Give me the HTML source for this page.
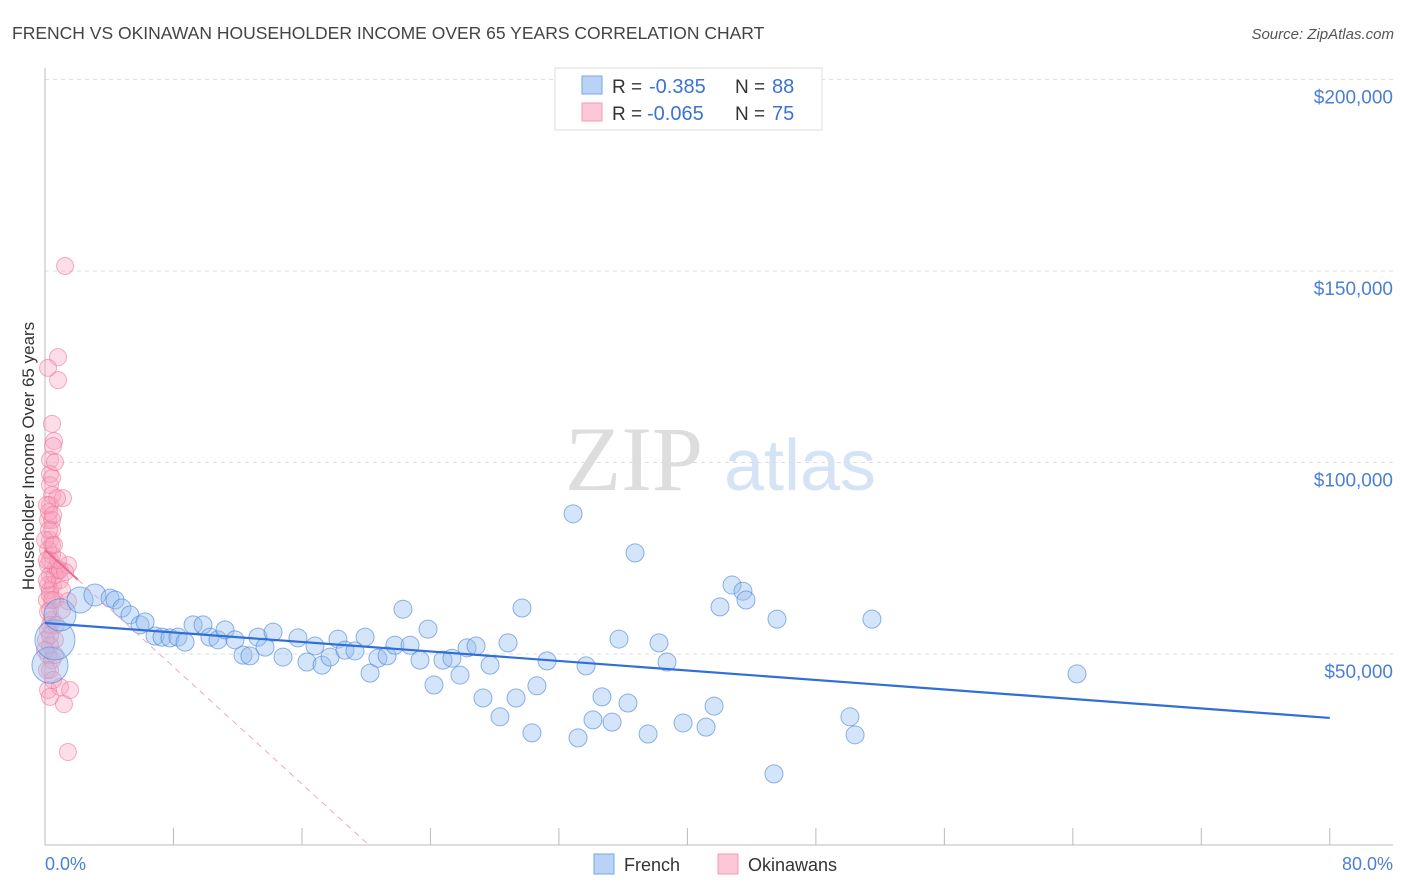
<!DOCTYPE html>
<html><head><meta charset="utf-8">
<style>
body{margin:0;background:#fff;font-family:"Liberation Sans",sans-serif;}
#wrap{position:relative;width:1406px;height:892px;overflow:hidden;}
</style></head>
<body>
<div id="wrap">
<svg id="svg" width="1406" height="892">
  <text x="12" y="39" font-size="17.5" fill="#444">FRENCH VS OKINAWAN HOUSEHOLDER INCOME OVER 65 YEARS CORRELATION CHART</text>
  <text x="1394" y="39" font-size="15" fill="#555" font-style="italic" text-anchor="end">Source: ZipAtlas.com</text>
  <g>
    <text x="634" y="490" font-size="92" fill="#ddd" font-family="Liberation Serif" text-anchor="middle">ZIP</text>
    <text x="800" y="490" font-size="72" fill="#d4e3f5" text-anchor="middle">atlas</text>
  </g>
  <g id="grid"></g>
  <g id="axes"></g>
  <g id="pts"></g>
  <g id="lines"></g>
  <text transform="translate(34,456) rotate(-90)" font-size="17" fill="#333" text-anchor="middle">Householder Income Over 65 years</text>
  <text x="45" y="870" font-size="18" fill="#4a7fd4">0.0%</text>
  <text x="1393" y="870" font-size="18" fill="#4a7fd4" text-anchor="end">80.0%</text>
  <g>
    <rect x="555" y="68" width="267" height="62" fill="#fff" stroke="#ddd"/>
    <rect x="582" y="76" width="20" height="18" fill="#b8d3f5" stroke="#7aa7e6"/>
    <rect x="582" y="103" width="20" height="18" fill="#fcc8d7" stroke="#f09ab3"/>
    <text x="612" y="93" font-size="19" fill="#333">R =</text>
    <text x="649" y="93" font-size="20" fill="#3a73d0">-0.385</text>
    <text x="735" y="93" font-size="19" fill="#333">N =</text>
    <text x="772" y="93" font-size="20" fill="#3a73d0">88</text>
    <text x="612" y="120" font-size="19" fill="#333">R =</text>
    <text x="647" y="120" font-size="20" fill="#3a73d0">-0.065</text>
    <text x="735" y="120" font-size="19" fill="#333">N =</text>
    <text x="772" y="120" font-size="20" fill="#3a73d0">75</text>
  </g>
  <g>
    <rect x="594" y="854" width="20" height="20" fill="#b8d3f5" stroke="#7aa7e6"/>
    <text x="624" y="871" font-size="18" fill="#333">French</text>
    <rect x="718" y="854" width="20" height="20" fill="#fcc8d7" stroke="#f09ab3"/>
    <text x="748" y="871" font-size="18" fill="#333">Okinawans</text>
  </g>
</svg>
</div>
<script>
const yTicks=[50,100,150,200];
const yTickLabels=["$50,000","$100,000","$150,000","$200,000"];
const xTicks=[0,8,16,24,32,40,48,56,64,72,80];
const frenchX=[0.31,0.62,0.93,2.18,3.11,4.05,4.36,4.79,5.29,5.92,6.23,6.85,7.29,7.78,8.28,8.72,9.22,9.84,10.27,10.77,11.21,11.83,12.33,12.76,13.26,13.70,14.20,14.82,15.75,16.31,16.81,17.25,17.75,18.24,18.68,19.30,19.93,20.24,20.73,21.30,21.79,22.29,22.73,23.35,23.85,24.22,24.78,25.34,25.84,26.28,26.84,27.27,27.71,28.33,28.83,29.33,29.70,30.32,30.63,31.26,32.88,33.19,33.69,34.12,34.68,35.31,35.74,36.30,36.74,37.55,38.23,38.73,39.73,41.16,41.66,42.03,42.78,43.46,43.65,45.39,45.58,50.12,50.44,51.49,64.26];
const frenchY=[47.1,53.7,60.2,64.1,65.4,64.6,64.1,62.0,60.2,57.6,58.4,54.7,54.4,54.2,54.4,53.1,57.6,57.6,54.4,53.7,56.3,53.7,49.7,49.5,54.4,51.8,55.7,49.2,54.2,47.9,52.1,47.1,49.2,53.9,51.0,50.8,54.4,45.0,48.9,49.5,52.3,61.7,52.3,48.4,56.5,41.9,48.4,48.9,44.5,51.6,52.1,38.5,47.1,33.6,52.9,38.5,62.0,29.4,41.7,48.2,86.6,28.1,46.9,32.8,38.8,32.2,53.9,37.2,76.4,29.1,52.9,47.9,32.0,30.9,36.4,62.3,68.0,66.4,64.1,18.7,59.1,33.6,28.9,59.1,44.8];
const okX=[1.25,0.81,0.81,0.19,0.44,0.56,0.50,0.31,0.31,0.31,0.44,1.12,0.31,0.19,0.44,0.31,0.44,0.44,0.19,1.43,0.68,0.31,0.19,0.62,1.43,0.31,0.44,0.19,0.62,0.31,0.19,0.44,0.31,0.19,0.93,1.56,0.31,1.18,1.43,0.12,0.50,0.62,0.81,0.31,0.31,0.19,0.44,0.25,0.75,0.93,1.06,0.06,0.31,0.62,0.12,0.50,0.0,0.12,0.44,0.62,0.93,1.25,0.12,0.31,0.81,1.06,0.44,0.19,0.68,0.31,0.0,0.12,0.56,0.25,0.50];
const okY=[151.3,127.5,121.5,124.7,110.1,105.6,104.3,100.7,97.0,94.1,91.5,90.7,88.9,85.0,85.0,79.8,78.5,75.8,73.2,73.2,72.4,70.6,68.0,64.1,63.8,61.5,58.9,56.3,53.7,52.3,49.7,48.4,45.8,40.6,41.4,40.6,38.8,36.9,24.4,64.1,68.0,70.6,71.9,66.7,65.4,77.2,82.4,87.1,90.7,69.3,61.5,53.7,57.6,49.7,45.8,43.2,79.8,88.9,96.0,100.1,71.9,71.4,69.3,74.5,74.5,66.7,64.1,61.0,57.6,55.0,51.0,74.5,78.5,82.4,86.3];
const frenchTrend=[[0,58.1],[80,33.3]];
const okTrendSolid=[[0,77.2],[2.05,69.4]];
const okTrendDash=[[2.05,69.4],[20.2,0]];

const NS="http://www.w3.org/2000/svg";
const X=v=>45+v*16.06;
const Y=v=>845.5-v*3.83;
function mk(tag,attrs,parent){const e=document.createElementNS(NS,tag);for(const k in attrs)e.setAttribute(k,attrs[k]);parent.appendChild(e);return e;}
const grid=document.getElementById('grid'),axes=document.getElementById('axes'),pts=document.getElementById('pts'),lines=document.getElementById('lines');
yTicks.forEach((t,i)=>{
  const l=mk('line',{x1:45,x2:1393,y1:Y(t),y2:Y(t),stroke:'#ddd','stroke-dasharray':'4,4'},grid);
  
  
  const tx=mk('text',{x:1393,y:Y(t)+24,'font-size':19,fill:'#4a7fd4','text-anchor':'end'},axes);
  tx.textContent=yTickLabels[i];
  
  
});
const ya=mk('line',{x1:45,x2:45,y1:68,y2:845,stroke:'#bbb'},axes);


const xa=mk('line',{x1:45,x2:1393,y1:845,y2:845,stroke:'#bbb'},axes);


xTicks.forEach(t=>{
  const l=mk('line',{x1:X(t),x2:X(t),y1:828,y2:845,stroke:'#bbb'},axes);
  
  
});
okX.forEach((v,i)=>{
  const c=mk('circle',{cx:X(v),cy:Y(okY[i]),r:8.5,fill:'rgba(248,160,188,0.35)',stroke:'rgba(238,120,155,0.6)','stroke-width':1},pts);
  
  
});
const bigR=[18,20,16,13,11];
frenchX.forEach((v,i)=>{
  const c=mk('circle',{cx:X(v),cy:Y(frenchY[i]),r:i<5?bigR[i]:9,fill:'rgba(150,190,240,0.4)',stroke:'rgba(70,130,215,0.6)','stroke-width':1},pts);
  
  
});
function line(d,attrs,name){const l=mk('line',Object.assign({x1:X(d[0][0]),y1:Y(d[0][1]),x2:X(d[1][0]),y2:Y(d[1][1])},attrs),lines);
  
  }
line(frenchTrend,{stroke:'#2f6fd6','stroke-width':2.2},'french-trend-line');
line(okTrendSolid,{stroke:'#ec6a8f','stroke-width':2},'okinawan-trend-line');
line(okTrendDash,{stroke:'#f0a8bc','stroke-width':1,'stroke-dasharray':'6,5'},'okinawan-trend-extension');
</script>
</body></html>
